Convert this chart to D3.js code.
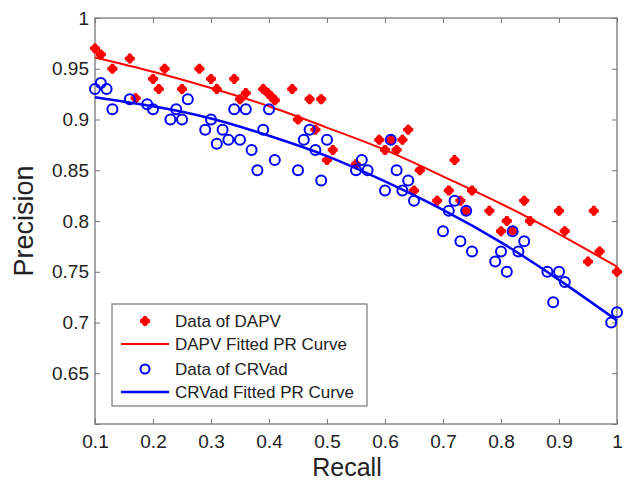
<!DOCTYPE html>
<html>
<head>
<meta charset="utf-8">
<script src="https://cdn.jsdelivr.net/npm/d3@7"></script>
<style>
  body { margin: 0; background: #fff; }
  text { font-family: "Liberation Sans", Arial, sans-serif; fill: #222; }
</style>
</head>
<body>
<div class="chart"></div>
<script>
// Data
var dapvRecall = [0.10, 0.11, 0.13, 0.16, 0.17, 0.20, 0.21, 0.22, 0.25, 0.28, 0.30, 0.31, 0.34, 0.35, 0.36,
  0.39, 0.398, 0.405, 0.41, 0.44, 0.45, 0.47, 0.48, 0.49, 0.50, 0.51, 0.55, 0.59, 0.60, 0.61, 0.62, 0.63,
  0.64, 0.65, 0.66, 0.69, 0.71, 0.72, 0.73, 0.74, 0.75, 0.78, 0.80, 0.81, 0.82, 0.84, 0.85, 0.90, 0.91,
  0.95, 0.96, 0.97, 1.00];
var dapvPrecision = [0.970, 0.964, 0.950, 0.960, 0.921, 0.940, 0.930, 0.950, 0.930, 0.950, 0.940, 0.930, 0.940, 0.920, 0.926,
  0.930, 0.926, 0.922, 0.919, 0.930, 0.900, 0.920, 0.890, 0.920, 0.860, 0.870, 0.856, 0.880, 0.870, 0.880, 0.870, 0.880,
  0.890, 0.830, 0.850, 0.820, 0.830, 0.860, 0.820, 0.810, 0.830, 0.810, 0.790, 0.800, 0.790, 0.820, 0.800, 0.810, 0.790,
  0.760, 0.810, 0.770, 0.750];

var crvRecall = [0.10, 0.11, 0.12, 0.13, 0.16, 0.19, 0.20, 0.23, 0.24, 0.25, 0.26, 0.29, 0.30, 0.31, 0.32, 0.33,
  0.34, 0.35, 0.36, 0.37, 0.38, 0.39, 0.40, 0.41, 0.45, 0.46, 0.47, 0.48, 0.49, 0.50, 0.55, 0.56, 0.57,
  0.60, 0.61, 0.62, 0.63, 0.64, 0.65, 0.70, 0.71, 0.72, 0.73, 0.74, 0.75, 0.79, 0.80, 0.81, 0.82, 0.83,
  0.84, 0.88, 0.89, 0.90, 0.91, 0.99, 1.00];
var crvPrecision = [0.930, 0.936, 0.930, 0.910, 0.920, 0.915, 0.910, 0.900, 0.910, 0.900, 0.920, 0.890, 0.900, 0.876, 0.890, 0.880,
  0.910, 0.880, 0.910, 0.870, 0.850, 0.890, 0.910, 0.860, 0.850, 0.880, 0.890, 0.870, 0.840, 0.880, 0.850, 0.860, 0.850,
  0.830, 0.880, 0.850, 0.830, 0.840, 0.820, 0.790, 0.810, 0.820, 0.780, 0.810, 0.770, 0.760, 0.770, 0.750, 0.790, 0.770,
  0.780, 0.750, 0.720, 0.750, 0.740, 0.700, 0.710];

// fitted curves
var fitRecall = [0.1, 0.2, 0.3, 0.4, 0.5, 0.6, 0.7, 0.8, 0.9, 1.0];
var dapvFit = [0.961, 0.947, 0.931, 0.913, 0.892, 0.870, 0.844, 0.817, 0.787, 0.755];
var crvFit = [0.922, 0.913, 0.901, 0.884, 0.864, 0.839, 0.811, 0.779, 0.742, 0.702];

var xTicks = [0.1, 0.2, 0.3, 0.4, 0.5, 0.6, 0.7, 0.8, 0.9, 1];
var yTicks = [0.6, 0.65, 0.7, 0.75, 0.8, 0.85, 0.9, 0.95, 1];
var legendLabels = ["Data of DAPV", "DAPV Fitted PR Curve", "Data of CRVad", "CRVad Fitted PR Curve"];

var svgWidth = 631, svgHeight = 481;
var margin = { top: 18, right: 14, bottom: 57, left: 95 };
var width = svgWidth - margin.left - margin.right;
var height = svgHeight - margin.top - margin.bottom;

var svg = d3.select(".chart").append("svg")
  .attr("width", svgWidth)
  .attr("height", svgHeight);

var chartGroup = svg.append("g")
  .attr("transform", `translate(${margin.left}, ${margin.top})`);

var x = d3.scaleLinear().domain([0.1, 1]).range([0, width]);
var y = d3.scaleLinear().domain([0.6, 1]).range([height, 0]);

var axisColor = "#777";

// axes, ticks pointing inward on all four sides
function styleAxis(g) {
  g.select(".domain").remove();
  g.selectAll(".tick line").attr("stroke", axisColor);
  g.selectAll(".tick text").style("font-size", "19px").attr("fill", "#222");
}

chartGroup.append("g")
  .attr("transform", `translate(0, ${height})`)
  .call(d3.axisBottom(x).tickValues(xTicks).tickSizeInner(-5).tickSizeOuter(0).tickPadding(11)
    .tickFormat(d => d === 1 ? "1" : d3.format(".1f")(d)))
  .call(styleAxis);

chartGroup.append("g")
  .call(d3.axisTop(x).tickValues(xTicks).tickSizeInner(-5).tickSizeOuter(0).tickFormat(""))
  .call(styleAxis);

chartGroup.append("g")
  .call(d3.axisLeft(y).tickValues(yTicks).tickSizeInner(-5).tickSizeOuter(0).tickPadding(6)
    .tickFormat(d => d === 0.6 ? "" : (d === 1 ? "1" : d3.format("")(+d.toFixed(2)))))
  .call(styleAxis);

chartGroup.append("g")
  .attr("transform", `translate(${width}, 0)`)
  .call(d3.axisRight(y).tickValues(yTicks).tickSizeInner(-5).tickSizeOuter(0).tickFormat(""))
  .call(styleAxis);

chartGroup.append("rect")
  .attr("width", width)
  .attr("height", height)
  .attr("fill", "none")
  .attr("stroke", axisColor)
  .attr("stroke-width", 1.3);

var line = d3.line()
  .x(d => x(d[0]))
  .y(d => y(d[1]))
  .curve(d3.curveNatural);

var crossPath = d3.symbol().type(d3.symbolCross).size(56)();

function drawRedMarker(g) {
  g.append("circle").attr("r", 4.2).attr("fill", "#ff0000");
  g.append("path").attr("d", crossPath).attr("fill", "#ff0000");
}

// DAPV data points
var dapvPts = chartGroup.append("g").selectAll("g")
  .data(d3.zip(dapvRecall, dapvPrecision))
  .enter()
  .append("g")
  .attr("transform", d => `translate(${x(d[0])}, ${y(d[1])})`);
dapvPts.each(function () { drawRedMarker(d3.select(this)); });

chartGroup.append("path")
  .datum(d3.zip(fitRecall, dapvFit))
  .attr("d", line)
  .attr("fill", "none")
  .attr("stroke", "#ff0000")
  .attr("stroke-width", 2);

// CRVad data points
chartGroup.append("g").selectAll("circle")
  .data(d3.zip(crvRecall, crvPrecision))
  .enter()
  .append("circle")
  .attr("cx", d => x(d[0]))
  .attr("cy", d => y(d[1]))
  .attr("r", 5)
  .attr("fill", "none")
  .attr("stroke", "#0000ff")
  .attr("stroke-width", 2);

chartGroup.append("path")
  .datum(d3.zip(fitRecall, crvFit))
  .attr("d", line)
  .attr("fill", "none")
  .attr("stroke", "#0000ff")
  .attr("stroke-width", 2.5);

// Legend
var legend = svg.append("g").attr("transform", "translate(112, 304)");
legend.append("rect")
  .attr("width", 255)
  .attr("height", 102)
  .attr("fill", "#fff")
  .attr("stroke", axisColor)
  .attr("stroke-width", 1.2);

var rowY = [17, 40, 65, 88];
legendLabels.forEach(function (label, i) {
  var row = legend.append("g").attr("transform", `translate(0, ${rowY[i]})`);
  if (i === 0) {
    drawRedMarker(row.append("g").attr("transform", "translate(33, 0)"));
  } else if (i === 2) {
    row.append("circle").attr("cx", 33).attr("r", 4.5)
      .attr("fill", "none").attr("stroke", "#0000ff").attr("stroke-width", 2);
  } else {
    row.append("line").attr("x1", 9).attr("x2", 57)
      .attr("stroke", i === 1 ? "#ff0000" : "#0000ff")
      .attr("stroke-width", i === 1 ? 2 : 2.5);
  }
  row.append("text")
    .attr("x", 63)
    .attr("dy", "0.35em")
    .style("font-size", "17px")
    .text(label);
});

// Axis labels
chartGroup.append("text")
  .attr("transform", "rotate(-90)")
  .attr("x", -height / 2)
  .attr("y", -62)
  .attr("text-anchor", "middle")
  .style("font-size", "27px")
  .text("Precision");

chartGroup.append("text")
  .attr("x", width / 2 - 9)
  .attr("y", height + 51.5)
  .attr("text-anchor", "middle")
  .style("font-size", "25px")
  .text("Recall");
</script>
</body>
</html>
